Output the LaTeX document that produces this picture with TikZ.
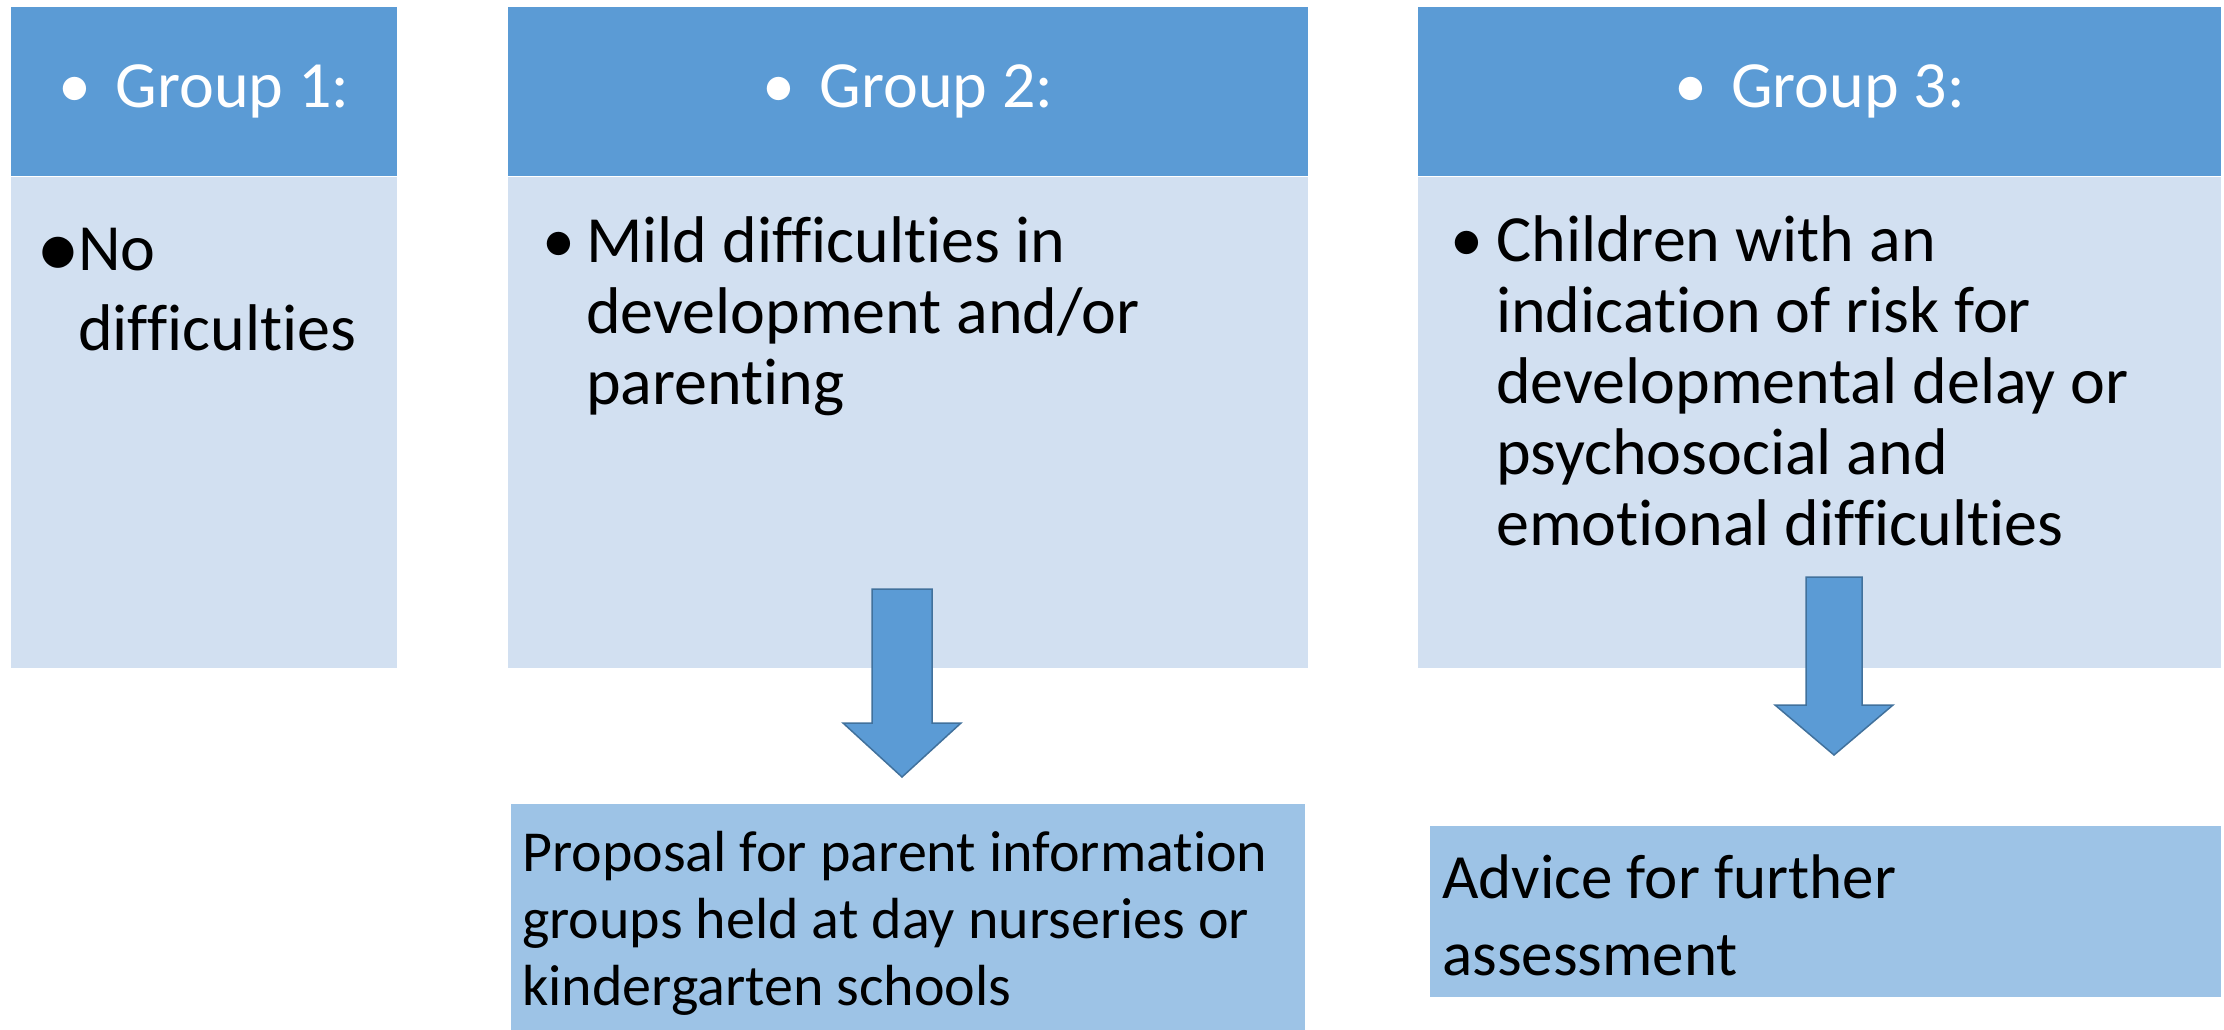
\documentclass[tikz,border=0pt]{standalone}
\usepackage{fontspec}
\setmainfont{Carlito}[Ligatures=NoCommon]
\definecolor{headblue}{HTML}{5B9BD5}
\definecolor{bodyblue}{HTML}{D2E0F1}
\definecolor{resblue}{HTML}{9DC3E6}
\definecolor{edgeblue}{HTML}{41719C}
\newcommand{\firstline}{\rule{0pt}{1em}}
\tikzset{
  head/.style={fill=headblue, text=white, anchor=north west, inner sep=0pt,
    font=\fontsize{66}{80}\selectfont},
  bodybox/.style={fill=bodyblue, anchor=north west, inner sep=0pt},
  resbox/.style={fill=resblue, anchor=north west, inner sep=0pt},
  bodytext/.style={anchor=north west, inner sep=0pt, align=left,
    font=\fontsize{66}{71}\selectfont},
  dot/.style={anchor=base west, inner sep=0pt, font=\fontsize{66}{71}\selectfont},
  blockarrow/.style={fill=headblue, draw=edgeblue, line width=1.5pt, line join=miter}
}
\begin{document}
\begin{tikzpicture}[x=1pt,y=-1pt]
\useasboundingbox (0,0) rectangle (2224,1030);
% the three groups
\foreach \i/\x/\w in {1/11/386, 2/508/800, 3/1418/803} {
  \node[head, minimum width=\w, minimum height=169] (g\i head) at (\x,7) {\textbullet\hspace{24pt}Group \i:};
  \node[bodybox, minimum width=\w, minimum height=491] (g\i body) at (g\i head.south west) {};
}
\node[dot, font=\fontsize{88}{88}\selectfont] (g1dot) at (36,277) {\textbullet};
\node[bodytext, font=\fontsize{66}{80}\selectfont] (g1text) at (78,204) {\firstline No\\difficulties};
\node[dot] (g2dot) at (542,262) {\textbullet};
\node[bodytext] (g2text) at (586,196) {\firstline Mild difficulties in\\development and/or\\parenting};
\node[dot] (g3dot) at (1450,261) {\textbullet};
\node[bodytext] (g3text) at (1496,195) {\firstline Children with an\\indication of risk for\\developmental delay or\\psychosocial and\\emotional difficulties};
% outcomes
\node[resbox, minimum width=794, minimum height=226] (r2) at (511,804) {};
\node[bodytext, font=\fontsize{58}{67}\selectfont] (r2text) at (522,813) {\firstline Proposal for parent information\\groups held at day nurseries or\\kindergarten schools};
\node[resbox, minimum width=791, minimum height=171] (r3) at (1430,826) {};
\node[bodytext, font=\fontsize{63}{77}\selectfont] (r3text) at (1442,835) {\firstline Advice for further\\assessment};
% block arrows
\foreach \x/\h/\ytop/\ybase/\ytip in {902/30/589/723/777, 1834/28/577/705/755}
  \draw[blockarrow] (\x-\h,\ytop) -- (\x+\h,\ytop) -- (\x+\h,\ybase) -- (\x+59,\ybase)
    -- (\x,\ytip) -- (\x-59,\ybase) -- (\x-\h,\ybase) -- cycle;
\end{tikzpicture}
\end{document}
